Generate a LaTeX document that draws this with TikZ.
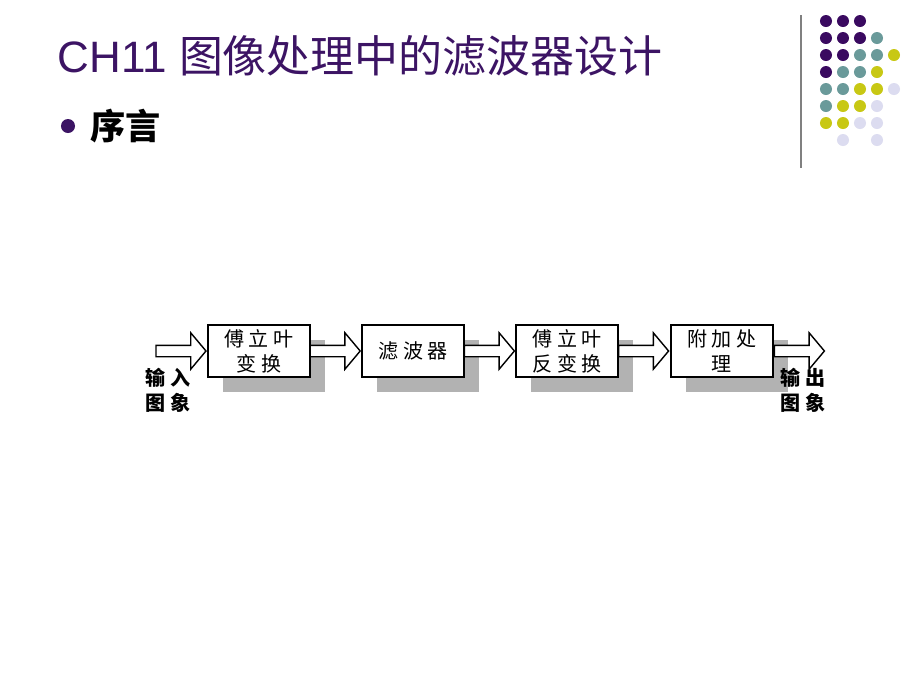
\documentclass[tikz,border=0pt]{standalone}
\usepackage{fontspec}
\setmainfont{Liberation Sans}
\newfontfamily\cjk{Noto Sans CJK SC}
\usetikzlibrary{positioning, shapes.arrows, shadows}
\definecolor{TitlePurple}{HTML}{3C1464}
\definecolor{DotPurple}{HTML}{3A0A60}
\definecolor{DotTeal}{HTML}{6A9A9A}
\definecolor{DotYellow}{HTML}{C8C814}
\definecolor{DotLilac}{HTML}{DCDCF0}
\tikzset{
  stage/.style={rectangle, draw=black, fill=white, line width=0.6pt,
                minimum width=1.02cm, minimum height=0.52cm, align=center,
                inner xsep=2pt, inner ysep=0pt,
                font=\cjk\fontsize{5.7pt}{7.1pt}\selectfont,
                drop shadow={shadow xshift=0.15cm, shadow yshift=-0.15cm,
                             opacity=1, fill=black!30}},
  blockarrow/.style={single arrow, draw=black, fill=white, line width=0.4pt,
                     inner xsep=0pt, inner ysep=0.05cm, minimum height=0.5cm,
                     single arrow head extend=0.125cm, single arrow tip angle=100},
  iolabel/.style={align=center, inner sep=0pt,
                  font=\cjk\bfseries\fontsize{5.7pt}{7.1pt}\selectfont}
}
\begin{document}
\begin{tikzpicture}[x=0.01cm, y=-0.01cm]
    \fill[white] (0,0) rectangle (920,690);
    \useasboundingbox (0,0) rectangle (920,690);

    % Title and bullet
    \node[anchor=base west, inner sep=0pt, text=TitlePurple,
          font=\fontsize{12.5pt}{15pt}\selectfont] (title) at (57,72)
        {CH11 {\cjk 图像处理中的滤波器设计}};
    \node[circle, fill=TitlePurple, inner sep=0pt, minimum size=0.14cm] (bul) at (68,126) {};
    \node[right=0.14cm of bul, inner sep=0pt,
          font=\cjk\bfseries\fontsize{10pt}{12pt}\selectfont] (intro) {序言};

    % Corner decoration
    \draw[gray, line width=0.6pt] (801,15) -- (801,168);
    \foreach \c/\r/\col in {1/1/DotPurple, 2/1/DotPurple, 3/1/DotPurple,
                            1/2/DotPurple, 2/2/DotPurple, 3/2/DotPurple, 4/2/DotTeal,
                            1/3/DotPurple, 2/3/DotPurple, 3/3/DotTeal, 4/3/DotTeal, 5/3/DotYellow,
                            1/4/DotPurple, 2/4/DotTeal, 3/4/DotTeal, 4/4/DotYellow,
                            1/5/DotTeal, 2/5/DotTeal, 3/5/DotYellow, 4/5/DotYellow, 5/5/DotLilac,
                            1/6/DotTeal, 2/6/DotYellow, 3/6/DotYellow, 4/6/DotLilac,
                            1/7/DotYellow, 2/7/DotYellow, 3/7/DotLilac, 4/7/DotLilac,
                            2/8/DotLilac, 4/8/DotLilac}
        \fill[\col] ({809+17*\c},{4+17*\r}) circle (0.06cm);

    % Processing chain
    \node[stage] (fft) at (259,351) {傅 立 叶\\变 换};
    \node[stage, right=0.5cm of fft] (filter) {滤 波 器};
    \node[stage, right=0.5cm of filter] (ifft) {傅 立 叶\\反 变 换};
    \node[stage, right=0.5cm of ifft] (post) {附 加 处\\理};

    % Arrows
    \node[blockarrow, anchor=tip] (ain) at (fft.west) {};
    \node[blockarrow, anchor=tip] (a1) at (filter.west) {};
    \node[blockarrow, anchor=tip] (a2) at (ifft.west) {};
    \node[blockarrow, anchor=tip] (a3) at (post.west) {};
    \node[blockarrow, anchor=tail] (aout) at (post.east) {};

    % Input / output
    \node[iolabel] (inimg) at (168,390) {输 入\\图 象};
    \node[iolabel] (outimg) at (803,390) {输 出\\图 象};
\end{tikzpicture}
\end{document}
